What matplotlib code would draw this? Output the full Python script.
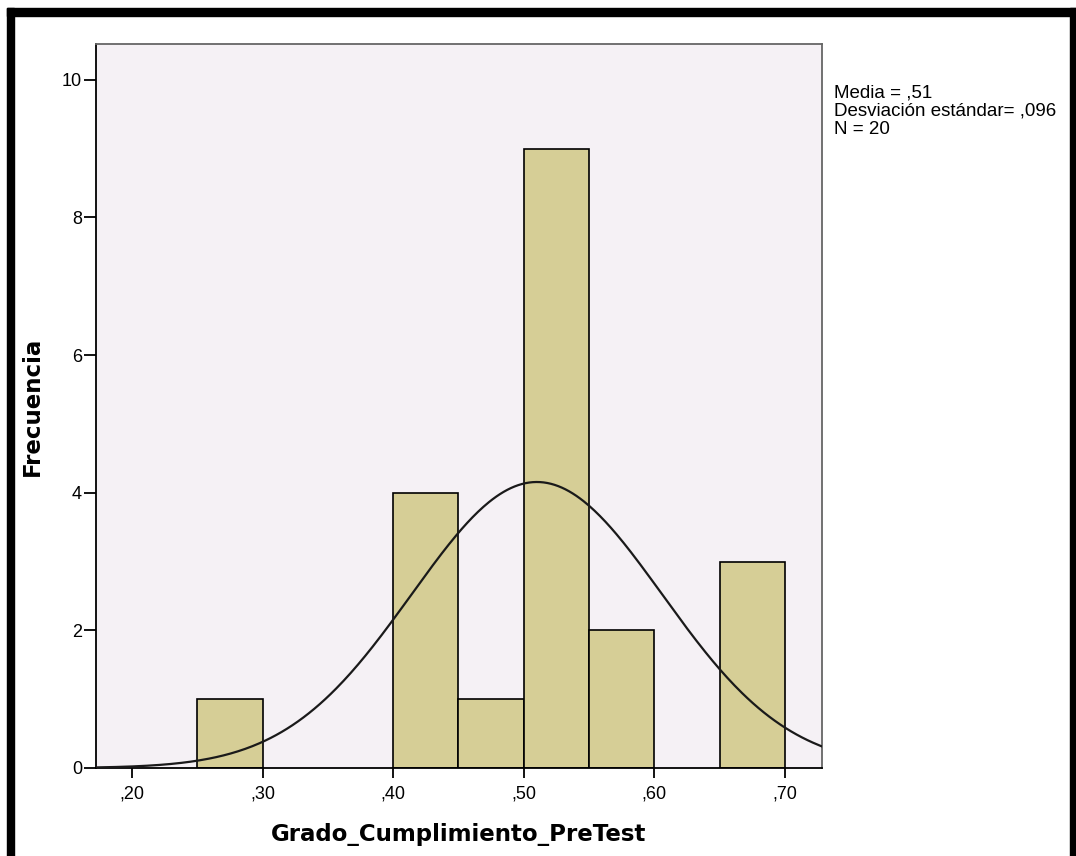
import numpy as np
import matplotlib
matplotlib.use('Agg')
import matplotlib.pyplot as plt
from matplotlib.patches import Rectangle
from matplotlib.ticker import FuncFormatter

plt.rcParams['font.family'] = ['Liberation Sans', 'DejaVu Sans']

# Datos del histograma
bin_edges = [0.25, 0.30, 0.35, 0.40, 0.45, 0.50, 0.55, 0.60, 0.65, 0.70]
freqs = [1, 0, 0, 4, 1, 9, 2, 0, 3]
media = 0.51
desv = 0.096
n = 20
x_ticks = [0.20, 0.30, 0.40, 0.50, 0.60, 0.70]
y_ticks = [0, 2, 4, 6, 8, 10]

W, H = 1076, 856
fig = plt.figure(figsize=(W / 100, H / 100), dpi=100)
fig.patch.set_facecolor('white')

ax = fig.add_axes([96 / W, 1 - 768 / H, (822 - 96) / W, (768 - 44) / H])
ax.set_facecolor('#F5F1F5')

widths = np.diff(bin_edges)
for left, w, f in zip(bin_edges[:-1], widths, freqs):
    if f > 0:
        ax.bar(left, f, width=w, align='edge', color='#D6CE96',
               edgecolor='black', linewidth=1.2, zorder=2)

# curva normal
xs = np.linspace(0.1725, 0.7283, 400)
bw = 0.05
ys = n * bw / (desv * np.sqrt(2 * np.pi)) * np.exp(-0.5 * ((xs - media) / desv) ** 2)
ax.plot(xs, ys, color='#1a1a1a', linewidth=1.6, zorder=3)

ax.set_xlim(0.1725, 0.7283)
ax.set_ylim(0, 10.52)
ax.set_xticks(x_ticks)
ax.set_yticks(y_ticks)
ax.xaxis.set_major_formatter(FuncFormatter(lambda v, p: ('%.2f' % v).lstrip('0').replace('.', ',')))
ax.tick_params(axis='x', length=7.5, width=1.3, labelsize=13, pad=5)
ax.tick_params(axis='y', length=9, width=1.3, labelsize=13, pad=1)

for s in ['left', 'bottom']:
    ax.spines[s].set_color('black')
    ax.spines[s].set_linewidth(1.3)
for s in ['top', 'right']:
    ax.spines[s].set_color('#666666')
    ax.spines[s].set_linewidth(1.3)

ax.set_xlabel('Grado_Cumplimiento_PreTest', fontsize=16.5, fontweight='bold', labelpad=15,
              family='DejaVu Sans')
ax.set_ylabel('Frecuencia', fontsize=16.5, fontweight='bold', labelpad=13,
              family='DejaVu Sans')

fig.text(834 / W, 1 - 84 / H,
         'Media = ,51\nDesviación estándar= ,096\nN = 20',
         fontsize=13.5, va='top', ha='left', linespacing=1.12)

# marco negro
fig.patches.append(Rectangle((7 / W, 0), 7 / W, 1 - 8 / H, transform=fig.transFigure,
                             color='black', zorder=10))
fig.patches.append(Rectangle((7 / W, 1 - 16 / H), (1076 - 7) / W, 8 / H,
                             transform=fig.transFigure, color='black', zorder=10))
fig.patches.append(Rectangle((1070 / W, 0), 6 / W, 1 - 8 / H, transform=fig.transFigure,
                             color='black', zorder=10))

fig.savefig('out.png', dpi=100)
